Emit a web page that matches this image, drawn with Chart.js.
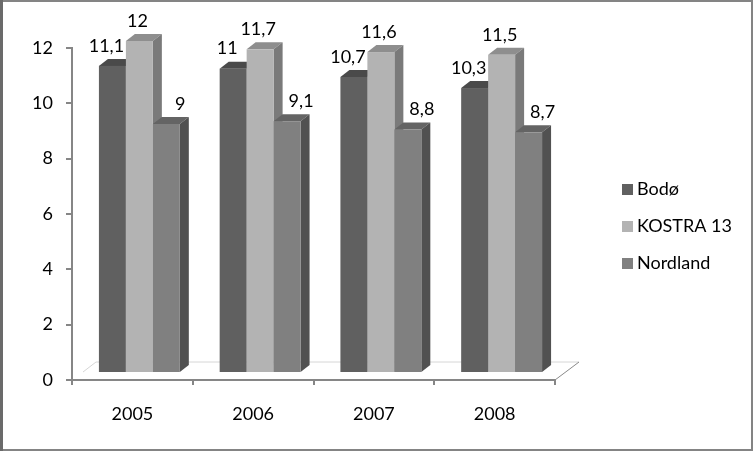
<!DOCTYPE html>
<html>
<head>
<meta charset="utf-8">
<script src="https://cdn.jsdelivr.net/npm/chart.js@4/dist/chart.umd.min.js"></script>
<style>
html,body{margin:0;padding:0;background:#fff;}
canvas{display:block;}
</style>
</head>
<body>
<canvas id="c" width="753" height="451"></canvas>
<script>
const categories = ['2005', '2006', '2007', '2008'];
const seriesNames = ['Bodø', 'KOSTRA 13', 'Nordland'];
const bodo = [11.1, 11, 10.7, 10.3];
const kostra = [12, 11.7, 11.6, 11.5];
const nordland = [9, 9.1, 8.8, 8.7];
const yTicks = [0, 2, 4, 6, 8, 10, 12];

const FONT = 'Lato, "Open Sans", sans-serif';
const FS = 18;
const faces = [
  {front: '#606060', top: '#4a4a4a', side: '#3e3e3e', labelDx: -6},
  {front: '#b3b3b3', top: '#8e8e8e', side: '#7a7a7a', labelDx: -2},
  {front: '#808080', top: '#646464', side: '#515151', labelDx: 14}
];
const OX = 7, OY = -7, DX = 9, DY = -7;

function fmt(v){ return String(v).replace('.', ','); }

const bars3d = {
  id: 'bars3d',
  beforeDraw(chart){
    const c = chart.ctx;
    c.save();
    c.fillStyle = '#fff';
    c.fillRect(0,0,chart.width,chart.height);
    c.fillStyle = '#848484';
    c.fillRect(0,0,chart.width,2);
    c.fillRect(0,chart.height-2,chart.width,2);
    c.fillRect(chart.width-2,0,2,chart.height);
    c.fillStyle = '#6a6a6a';
    c.fillRect(0,0,3,chart.height);
    c.restore();
  },
  beforeDatasetsDraw(chart){
    const c = chart.ctx;
    const xs = chart.scales.x, ys = chart.scales.y;
    const y0 = ys.getPixelForValue(0);
    // floor
    c.save();
    c.lineWidth = 1;
    c.strokeStyle = '#d6d6d6';
    c.beginPath();
    c.moveTo(xs.left + 11, y0 - 8);
    c.lineTo(xs.left + 24, y0 - 18);
    c.lineTo(xs.right + 24, y0 - 18);
    c.stroke();
    c.strokeStyle = '#8a8a8a';
    c.beginPath();
    c.moveTo(xs.right, y0);
    c.lineTo(xs.right + 24, y0 - 18);
    c.stroke();
    c.restore();

    c.save();
    for (let i = 0; i < categories.length; i++) {
      chart.data.datasets.forEach((ds, d) => {
        const el = chart.getDatasetMeta(d).data[i];
        const f = faces[d];
        const l = el.x - el.width/2 + OX, r = el.x + el.width/2 + OX;
        const t = el.y + OY, b = el.base + OY;
        c.fillStyle = f.top;
        c.beginPath();
        c.moveTo(l, t); c.lineTo(l+DX, t+DY); c.lineTo(r+DX, t+DY); c.lineTo(r, t); c.closePath();
        c.fill();
        c.fillStyle = f.side;
        c.beginPath();
        c.moveTo(r, t); c.lineTo(r+DX, t+DY); c.lineTo(r+DX, b+DY); c.lineTo(r, b); c.closePath();
        c.fill();
        c.fillStyle = f.front;
        c.fillRect(l, t, r-l, b-t);
      });
    }
    c.fillStyle = '#000';
    c.font = FS + 'px ' + FONT;
    c.textAlign = 'center';
    c.textBaseline = 'middle';
    chart.data.datasets.forEach((ds, d) => {
      chart.getDatasetMeta(d).data.forEach((el, i) => {
        c.fillText(fmt(ds.data[i]), el.x + OX + faces[d].labelDx, el.y + OY - 20);
      });
    });
    c.restore();
    return false;
  },
  afterDraw(chart){
    const c = chart.ctx;
    c.save();
    c.font = FS + 'px ' + FONT;
    c.textAlign = 'left';
    c.textBaseline = 'middle';
    seriesNames.forEach((n, d) => {
      const yc = 189 + d*37;
      c.fillStyle = faces[d].front;
      c.fillRect(622, yc-5, 11, 11);
      c.fillStyle = '#000';
      c.fillText(n, 637, yc);
    });
    c.restore();
  }
};

new Chart(document.getElementById('c'), {
  type: 'bar',
  data: {
    labels: categories,
    datasets: [
      {label: seriesNames[0], data: bodo, backgroundColor: faces[0].front},
      {label: seriesNames[1], data: kostra, backgroundColor: faces[1].front},
      {label: seriesNames[2], data: nordland, backgroundColor: faces[2].front}
    ]
  },
  options: {
    responsive: false,
    animation: false,
    devicePixelRatio: 1,
    layout: {padding: {top: 48, right: 198, left: 0, bottom: 0}},
    datasets: {bar: {categoryPercentage: 0.67, barPercentage: 1}},
    plugins: {legend: {display: false}, tooltip: {enabled: false}},
    scales: {
      x: {
        afterFit(s){ s.height = 71; },
        grid: {offset: true, drawOnChartArea: false, tickLength: 5, color: '#868686', lineWidth: 2},
        border: {color: '#868686', width: 2},
        ticks: {padding: 18, color: '#000', font: {family: FONT, size: FS}}
      },
      y: {
        min: 0, max: 12,
        afterFit(s){ s.width = 72; },
        afterBuildTicks(s){ s.ticks = yTicks.map(v => ({value: v})); },
        grid: {drawOnChartArea: false, tickLength: 6, color: '#868686', lineWidth: 2},
        border: {color: '#868686', width: 2},
        ticks: {padding: 13, color: '#000', font: {family: FONT, size: FS}}
      }
    }
  },
  plugins: [bars3d]
});
</script>
</body>
</html>
